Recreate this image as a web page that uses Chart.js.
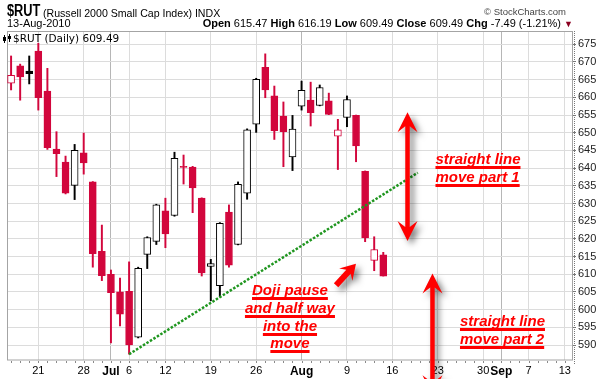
<!DOCTYPE html>
<html><head><meta charset="utf-8">
<script src="https://cdn.jsdelivr.net/npm/chart.js@4.4.1/dist/chart.umd.min.js"></script>
<style>
html,body{margin:0;padding:0;background:#fff;}
#wrap{position:relative;width:602px;height:379px;overflow:hidden;font-family:'Liberation Sans',Arial,sans-serif;}
canvas{position:absolute;left:0;top:0;}
.hd{position:absolute;white-space:nowrap;color:#000;line-height:12px;}
.ann{position:absolute;white-space:nowrap;color:#ff0000;font:italic bold 15px 'Liberation Sans',Arial,sans-serif;line-height:17.8px;
 text-decoration:underline;text-decoration-thickness:2.5px;text-underline-offset:2px;text-decoration-skip-ink:none;}
</style></head><body>
<div id="wrap">
<canvas id="c" width="602" height="379"></canvas>
<div class="hd" style="left:7px;top:3px;font-weight:bold;font-size:16px;line-height:16px;transform:scaleX(0.8);transform-origin:0 0;">$RUT</div>
<div class="hd" style="left:43px;top:7px;font-size:10.6px;">(Russell 2000 Small Cap Index) INDX</div>
<div class="hd" style="right:36px;top:6px;font-size:9.5px;color:#444;">© StockCharts.com</div>
<div class="hd" style="left:7px;top:17px;font-size:11px;">13-Aug-2010</div>
<div class="hd" style="right:29px;top:17px;font-size:11px;"><b>Open</b> 615.47 <b>High</b> 616.19 <b>Low</b> 609.49 <b>Close</b> 609.49 <b>Chg</b> -7.49 (-1.21%) <span style="color:#8b0020;font-size:9px;">▼</span></div>
<div class="hd" style="left:13px;top:32px;font-family:'DejaVu Sans';font-size:10.5px;">$RUT (Daily) 609.49</div>
<div class="ann" id="t1">straight line<br>move part 1</div>
<div class="ann" id="t2">straight line<br>move part 2</div>
<div class="ann" id="t3" style="text-align:center;width:200px;">Doji pause<br>and half way<br>into the<br>move</div>
</div>
<script>
// ---- data ----
const dates = ['2010-06-16','2010-06-17','2010-06-18','2010-06-21','2010-06-22','2010-06-23','2010-06-24','2010-06-25','2010-06-28','2010-06-29','2010-06-30',
 '2010-07-01','2010-07-02','2010-07-06','2010-07-07','2010-07-08','2010-07-09','2010-07-12','2010-07-13','2010-07-14','2010-07-15','2010-07-16','2010-07-19','2010-07-20','2010-07-21','2010-07-22','2010-07-23','2010-07-26','2010-07-27','2010-07-28','2010-07-29','2010-07-30',
 '2010-08-02','2010-08-03','2010-08-04','2010-08-05','2010-08-06','2010-08-09','2010-08-10','2010-08-11','2010-08-12','2010-08-13','2010-08-16','2010-08-17','2010-08-18','2010-08-19','2010-08-20','2010-08-23','2010-08-24','2010-08-25','2010-08-26','2010-08-27','2010-08-30','2010-08-31',
 '2010-09-01','2010-09-02','2010-09-03','2010-09-07','2010-09-08','2010-09-09','2010-09-10','2010-09-13'];
const opens  = [664.0,668.9,667.45,673.1,661.8,645.4,641.7,635.1,644.3,636.1,616.5,610.0,605.0,605.2,592.2,615.6,619.3,627.9,626.6,640.3,640.3,631.5,612.2,606.8,627.6,618.4,632.9,652.4,668.5,660.4,654.7,643.2,657.5,659.2,657.7,659.0,649.0,654.3,654.9,639.1,613.9,615.47];
const highs  = [671.7,669.4,671.7,675.3,668.2,650.3,643.4,646.7,649.9,636.2,623.9,611.2,608.9,613.5,612.0,620.6,629.8,631.5,644.5,643.7,640.5,631.6,614.2,624.6,629.6,636.1,651.1,665.4,672.3,663.2,658.7,654.9,664.6,664.3,663.5,661.2,653.8,660.4,655.0,639.2,620.6,616.19];
const lows   = [662.1,659.2,663.8,656.4,645.3,637.6,632.7,631.1,638.3,612.0,608.2,590.6,595.4,587.4,592.0,611.6,618.4,617.5,626.4,635.5,627.4,609.5,602.5,603.6,612.0,618.3,631.2,650.1,659.9,648.1,640.4,639.3,656.4,651.9,657.6,655.1,639.6,651.7,641.8,619.2,611.0,609.49];
const closes = [666.2,665.8,666.7,659.9,645.8,644.1,632.9,645.0,641.5,615.8,609.6,604.8,598.7,590.0,611.7,620.4,629.6,621.4,642.8,640.2,634.4,610.4,613.0,624.4,612.6,635.4,650.8,665.1,662.1,650.6,650.3,651.0,662.0,655.7,662.8,655.2,650.8,659.4,646.3,620.3,617.0,609.49];
const priorClose = 667.0;
const xTickIdx    = [3,8,11,13,17,22,27,32,37,42,47,52,54,57,61];
const xTickLabels = ['21','28','Jul','6','12','19','26','Aug','9','16','23','30','Sep','7','13'];
const yTickValues = [590,595,600,605,610,615,620,625,630,635,640,645,650,655,660,665,670,675];
const trendX = [13, 44.8];
const trendY = [587.4, 638.7];

// ---- styling helpers ----
const RED = '#d2063c', BLACK = '#000000';
const candleColor = i => closes[i] < (i === 0 ? priorClose : closes[i-1]) ? RED : BLACK;
const isHollow = i => closes[i] > opens[i];
const colors = opens.map((_, i) => candleColor(i));
const isMonth = v => { const k = xTickIdx.indexOf(v); return k >= 0 && isNaN(Number(xTickLabels[k])); };

// annotation layout (in data units: x = trading-day index, y = index value)
const arrows = [
  {from:[43.67,619.4], to:[43.67,655.8], double:true,  shaft:4.5, head:20, half:10, neck:14},
  {from:[35.8,606.9],  to:[37.99,613.0], double:false, shaft:6,   head:15, half:9,  neck:11},
  {from:[46.42,575.8], to:[46.42,610.2], double:true,  shaft:4.5, head:20, half:10, neck:14}
];
const texts = [
  {id:'t1', x:46.75, y:641.0, align:'left'},
  {id:'t2', x:49.45, y:595.4, align:'left'},
  {id:'t3', x:30.72, y:604.1, align:'center'}
];

function arrowPath(ctx, ax, ay, bx, by, o) {
  const dx = bx-ax, dy = by-ay, L = Math.hypot(dx,dy);
  const ux = dx/L, uy = dy/L, nx = -uy, ny = ux;
  const s = o.shaft/2;
  const P = (b, along, side) => [b[0]+ux*along+nx*side, b[1]+uy*along+ny*side];
  const A = [ax,ay], B = [bx,by], pts = [B, P(B,-o.head,o.half), P(B,-o.neck,s)];
  if (o.double) pts.push(P(A,o.neck,s), P(A,o.head,o.half), A, P(A,o.head,-o.half), P(A,o.neck,-s));
  else pts.push(P(A,0,s), P(A,0,-s));
  pts.push(P(B,-o.neck,-s), P(B,-o.head,-o.half));
  ctx.beginPath();
  pts.forEach((p,i) => i ? ctx.lineTo(p[0],p[1]) : ctx.moveTo(p[0],p[1]));
  ctx.closePath();
}

const deco = {
  id: 'deco',
  beforeDatasetsDraw(chart) {
    const {ctx, chartArea: a, scales: {x}} = chart;
    ctx.save();
    ctx.strokeStyle = '#a4a4a4'; ctx.lineWidth = 1;
    ctx.strokeRect(a.left+0.5, a.top+0.5, a.right-a.left-1, a.bottom-a.top-0.5);
    ctx.fillStyle = '#8a8a8a';
    for (let i = 0; i < dates.length; i++) ctx.fillRect(Math.round(x.getPixelForValue(i)), a.bottom+1, 1, 2);
    ctx.setLineDash([1,1]); ctx.strokeStyle = '#777';
    ctx.beginPath(); ctx.moveTo(a.right+1.5, a.top); ctx.lineTo(a.right+1.5, a.bottom+4); ctx.stroke();
    ctx.restore();
  },
  afterDraw(chart) {
    const {ctx, scales: {x, y}} = chart;
    ctx.save();
    // legend icon
    ctx.fillStyle = '#000';
    ctx.fillRect(4,35,1,8); ctx.fillRect(3,37,3,4);
    ctx.fillRect(9,34,1,8); ctx.fillRect(8,36,3,3);
    // arrows
    ctx.shadowColor = 'rgba(0,0,0,0.5)'; ctx.shadowBlur = 6; ctx.shadowOffsetX = 4; ctx.shadowOffsetY = 4;
    ctx.fillStyle = '#ff0000';
    arrows.forEach(o => {
      arrowPath(ctx, x.getPixelForValue(o.from[0]), y.getPixelForValue(o.from[1]),
                     x.getPixelForValue(o.to[0]), y.getPixelForValue(o.to[1]), o);
      ctx.fill();
    });
    ctx.restore();
    texts.forEach(t => {
      const el = document.getElementById(t.id);
      const px = x.getPixelForValue(t.x), py = y.getPixelForValue(t.y);
      el.style.top = (py - 14.1) + 'px';
      el.style.left = (t.align === 'center' ? px - 100 : px) + 'px';
    });
  }
};

Chart.defaults.font.family = "'Liberation Sans', Arial, sans-serif";
new Chart(document.getElementById('c'), {
  type: 'bar',
  data: {
    datasets: [
      {type:'line', label:'trend', data: trendX.map((v,i)=>({x:v, y:trendY[i]})), borderColor:'#1f961f', borderWidth:2.5,
       borderDash:[2.5,1.6], pointRadius:0, fill:false, order:1},
      {type:'bar', label:'body', data: opens.map((o,i)=>({x:i, y:[o, closes[i]]})),
       backgroundColor: opens.map((_,i)=> isHollow(i) ? '#ffffff' : colors[i]), borderColor: colors,
       borderWidth:1, borderSkipped:false, barThickness:7, minBarLength:1.2, grouped:false, order:2},
      {type:'bar', label:'wick', data: lows.map((l,i)=>({x:i, y:[l, highs[i]]})),
       backgroundColor: colors, borderWidth:0, barThickness:1.3, grouped:false, order:3}
    ]
  },
  plugins: [deco],
  options: {
    responsive:false, animation:false, devicePixelRatio:1,
    layout:{padding:{top:31,left:7,right:0,bottom:0}},
    plugins:{legend:{display:false}, tooltip:{enabled:false}, title:{display:false}},
    scales:{
      x:{type:'linear', min:-0.45, max:61.9, offset:false,
         afterBuildTicks: s => { s.ticks = xTickIdx.map(v=>({value:v})); },
         afterFit: s => { s.height = 19; },
         grid:{offset:false, drawTicks:false, color: c => isMonth(c.tick && c.tick.value) ? '#b6b6b6' : '#dcdcdc'},
         border:{display:false},
         ticks:{autoSkip:false, maxRotation:0, minRotation:0, padding:4, color:'#000',
           font: c => isMonth(c.tick && c.tick.value) ? {size:12, weight:'bold'} : {size:11},
           callback: v => { const k = xTickIdx.indexOf(v); return k >= 0 ? xTickLabels[k] : ''; }}},
      y:{type:'linear', position:'right', min:585.76, max:678.76, beginAtZero:false,
         afterBuildTicks: s => { s.ticks = yTickValues.map(v=>({value:v})); },
         afterFit: s => { s.width = 29; },
         grid:{color:'#dcdcdc', tickLength:3, tickColor:'#777'},
         border:{display:false},
         ticks:{padding:2, color:'#222', font:{size:11}}}
    }
  }
});
</script>
</body></html>
